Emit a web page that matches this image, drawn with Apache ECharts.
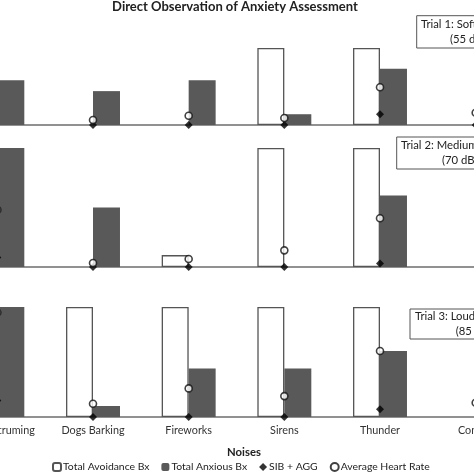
<!DOCTYPE html>
<html>
<head>
<meta charset="utf-8">
<script src="https://cdn.jsdelivr.net/npm/echarts@6/dist/echarts.min.js"></script>
<style>
html,body{margin:0;padding:0;width:474px;height:474px;overflow:hidden;background:#fff;}
#wrap{position:relative;width:474px;height:474px;overflow:hidden;}
#chart{position:absolute;left:-100px;top:0;width:674px;height:474px;}
</style>
</head>
<body>
<div id="wrap"><div id="chart"></div></div>
<script>
// ---- data ----
var categories = ['Guitar Struming', 'Dogs Barking', 'Fireworks', 'Sirens', 'Thunder', 'Control'];
var seriesNames = ['Total Avoidance Bx', 'Total Anxious Bx', 'SIB + AGG', 'Average Heart Rate'];
var trialLabels = ['Trial 1: Soft Noise', 'Trial 2: Medium Noise', 'Trial 3: Loud Noise'];
var trialDb = ['(55 dB)', '(70 dB)', '(85 dB)'];

var avoid1   = [0, 0, 0, 100, 100, 0];
var anxious1 = [58, 44, 58, 14, 73, 0];
var sib1     = [null, 0, 0, 0, 14, 0];
var heart1   = [null, 6.5, 12, 9, 49, 16];

var avoid2   = [0, 0, 10, 100, 100, 0];
var anxious2 = [100, 50, 0, 0, 60, 0];
var sib2     = [8, 0, 0, 0, 3, null];
var heart2   = [48, 3.4, 6.7, 14, 41, null];

var avoid3   = [0, 100, 100, 100, 100, 0];
var anxious3 = [100, 10, 44, 44, 60, 0];
var sib3     = [15, 0, 0, 0, 7, null];
var heart3   = [95, 12, 26, 19, 60, 13];

var panels = [
  {avoid: avoid1, anxious: anxious1, sib: sib1, heart: heart1},
  {avoid: avoid2, anxious: anxious2, sib: sib2, heart: heart2},
  {avoid: avoid3, anxious: anxious3, sib: sib3, heart: heart3}
];

// zero-height bars are not drawn (avoid border stubs on the baseline)
function barData(arr) { return arr.map(function (v) { return v === 0 ? '-' : v; }); }

// ---- layout ----
var OFF = 100; // chart div is shifted left by this many px
var FONT = 'Lato, "Open Sans", sans-serif';
var gridTops = [48, 148, 307];
var gridHeights = [77, 119, 110];

var grids = [], xAxes = [], yAxes = [], series = [];
panels.forEach(function (p, i) {
  grids.push({left: OFF - 50.5, width: 574, top: gridTops[i], height: gridHeights[i]});
  xAxes.push({
    type: 'category', gridIndex: i, data: categories,
    axisLine: {show: true, lineStyle: {color: '#6e6e6e', width: 1.5}},
    axisTick: {show: false},
    axisLabel: {show: i === 2, interval: 0, fontFamily: FONT, fontSize: 10.8, color: '#333', margin: 8}
  });
  yAxes.push({
    type: 'value', gridIndex: i, min: 0, max: 100,
    show: false, splitLine: {show: false}
  });
  series.push({
    name: seriesNames[0], type: 'bar', xAxisIndex: i, yAxisIndex: i,
    data: barData(p.avoid), barWidth: '28.2%', barGap: '0%',
    itemStyle: {color: '#ffffff', borderColor: '#555555', borderWidth: 1.3}
  });
  series.push({
    name: seriesNames[1], type: 'bar', xAxisIndex: i, yAxisIndex: i,
    data: barData(p.anxious), barWidth: '28.2%', barGap: '0%',
    itemStyle: {color: '#595959', borderColor: '#595959', borderWidth: 0}
  });
  series.push({
    name: seriesNames[2], type: 'scatter', xAxisIndex: i, yAxisIndex: i,
    data: p.sib, symbol: 'diamond', symbolSize: 8, z: 4,
    itemStyle: {color: '#000000'}
  });
  series.push({
    name: seriesNames[3], type: 'scatter', xAxisIndex: i, yAxisIndex: i,
    data: p.heart, symbol: 'circle', symbolSize: 7, z: 5,
    itemStyle: {color: '#ffffff', borderColor: '#111111', borderWidth: 1.6}
  });
});

// annotation boxes (positions in visible-window px)
var boxes = [
  {x: 416.7, y: 15.7, w: 120, h: 32.3, l1x: 421, l2x: 450, ly1: 19, ly2: 34},
  {x: 396.7, y: 137, w: 140, h: 32, l1x: 401, l2x: 442, ly1: 140, ly2: 155},
  {x: 410, y: 309, w: 130, h: 30, l1x: 415, l2x: 455.7, ly1: 311, ly2: 326}
];
var graphics = [];
boxes.forEach(function (b, i) {
  graphics.push({type: 'rect', shape: {x: b.x + OFF, y: b.y, width: b.w, height: b.h},
    style: {fill: '#ffffff', stroke: '#555555', lineWidth: 1}, z: 10});
  graphics.push({type: 'text', x: b.l1x + OFF, y: b.ly1, z: 11,
    style: {text: trialLabels[i], font: '11.3px ' + FONT, fill: '#222', textVerticalAlign: 'top'}});
  graphics.push({type: 'text', x: b.l2x + OFF, y: b.ly2, z: 11,
    style: {text: trialDb[i], font: '11.3px ' + FONT, fill: '#222', textVerticalAlign: 'top'}});
});
graphics.push({type: 'text', x: 244 + OFF, y: 452, z: 11,
  style: {text: 'Noises', font: 'bold 11.3px ' + FONT, fill: '#222', textAlign: 'center', textVerticalAlign: 'middle'}});
graphics.push({type: 'text', x: 235 + OFF, y: 7, z: 11,
  style: {text: 'Direct Observation of Anxiety Assessment', font: 'bold 13px ' + FONT, fill: '#222', textAlign: 'center', textVerticalAlign: 'middle'}});

var chart = echarts.init(document.getElementById('chart'));
chart.setOption({
  animation: false,
  backgroundColor: '#ffffff',
  legend: {
    data: seriesNames, left: 52 + OFF, top: 462,
    itemWidth: 8, itemHeight: 8, itemGap: 12, padding: 0,
    textStyle: {fontFamily: FONT, fontSize: 10.4, color: '#222', padding: [0, 0, 0, -3]}
  },
  grid: grids, xAxis: xAxes, yAxis: yAxes, series: series,
  graphic: graphics
});
</script>
</body>
</html>
